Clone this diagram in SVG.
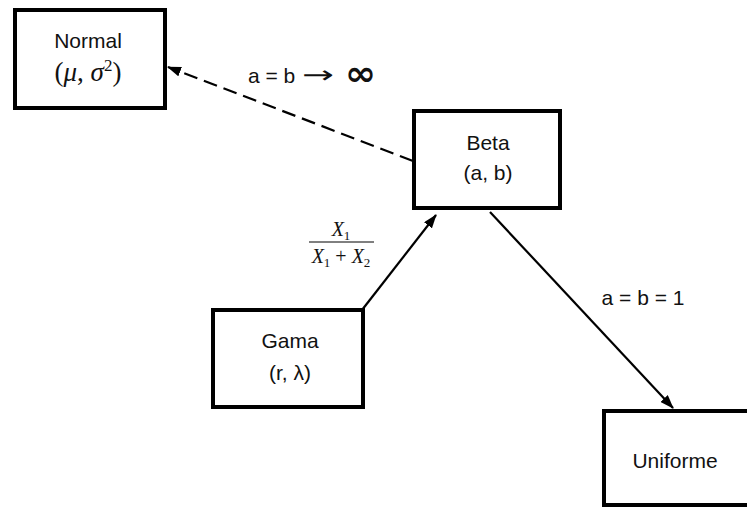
<svg xmlns="http://www.w3.org/2000/svg" width="747" height="507" viewBox="0 0 747 507">
<style>
.box{fill:#fff;stroke:#000;stroke-width:4}
.t{font-family:"Liberation Sans",Arial,sans-serif;font-size:21px;fill:#111;text-anchor:middle}
.s{text-anchor:start}
.m{font-family:"Liberation Serif","Times New Roman",serif;font-size:20px;fill:#111;text-anchor:middle}
.c{stroke:#000;stroke-width:2.2;fill:none}
</style>
<defs>
<marker id="ah2" markerWidth="14" markerHeight="10" refX="13" refY="5" orient="auto" markerUnits="userSpaceOnUse">
<path d="M0,0 L14,5 L0,10 Z" fill="#000"/>
</marker>
</defs>
<rect width="747" height="507" fill="#fff"/>
<g id="connectors">
<path class="c" d="M413,161 L168,67" stroke-width="3" stroke-dasharray="14,7" marker-end="url(#ah2)"/>
<path class="c" d="M362,310 L436,215" marker-end="url(#ah2)"/>
<path class="c" d="M490,212 L673,408" marker-end="url(#ah2)"/>
<text class="t s" x="248" y="83">a = b</text>
<text class="t s" x="302" y="83" style="font-family:'DejaVu Sans',sans-serif;font-size:24px" textLength="32" lengthAdjust="spacingAndGlyphs">→</text>
<text class="t s" x="345" y="85" style="font-family:'DejaVu Sans',sans-serif;font-size:34px;font-weight:bold" textLength="31" lengthAdjust="spacingAndGlyphs">∞</text>
<text class="t" x="643" y="305">a = b = 1</text>
<g id="fraction">
<text class="m" x="341" y="236" font-style="italic">X<tspan style="font-size:13px" font-style="normal" dy="4">1</tspan></text>
<line x1="309" y1="242" x2="374" y2="242" stroke="#000" stroke-width="1"/>
<text class="m" x="341" y="263" font-style="italic">X<tspan style="font-size:13px" font-style="normal" dy="4">1</tspan><tspan dy="-4" font-style="normal"> + </tspan>X<tspan style="font-size:13px" font-style="normal" dy="4">2</tspan></text>
</g>
</g>
<g id="normal">
<rect class="box" x="15" y="10" width="150" height="98"/>
<text class="t" x="88" y="48">Normal</text>
<text class="m" x="88" y="81" style="font-size:27px">(<tspan font-style="italic">μ</tspan>, <tspan font-style="italic">σ</tspan><tspan style="font-size:17px" dy="-10">2</tspan><tspan dy="10">)</tspan></text>
</g>
<g id="beta">
<rect class="box" x="414" y="111" width="146" height="97"/>
<text class="t" x="488" y="150">Beta</text>
<text class="t" x="488" y="180">(a, b)</text>
</g>
<g id="gama">
<rect class="box" x="213" y="310" width="150" height="97"/>
<text class="t" x="290" y="348">Gama</text>
<text class="t" x="290" y="380">(r, λ)</text>
</g>
<g id="uniforme">
<rect class="box" x="604" y="411" width="150" height="94"/>
<text class="t" x="675" y="468">Uniforme</text>
</g>
</svg>
